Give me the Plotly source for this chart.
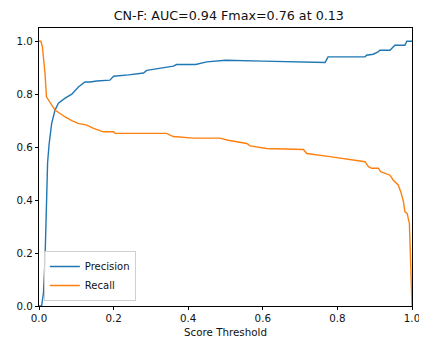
import plotly.graph_objects as go

title = "CN-F: AUC=0.94 Fmax=0.76 at 0.13"

prec_x = [0.0, 0.007, 0.012, 0.016, 0.02, 0.023, 0.027, 0.034, 0.043, 0.052, 0.07, 0.088,
          0.105, 0.123, 0.137, 0.155, 0.19, 0.2, 0.24, 0.28, 0.289, 0.32, 0.36, 0.369,
          0.42, 0.45, 0.5, 0.6, 0.708, 0.767, 0.775, 0.861, 0.874, 0.878, 0.896, 0.909,
          0.914, 0.941, 0.946, 0.954, 0.981, 0.986, 1.0]
prec_y = [0.0, 0.0, 0.05, 0.17, 0.38, 0.54, 0.61, 0.69, 0.74, 0.766, 0.785, 0.80,
          0.826, 0.846, 0.846, 0.85, 0.853, 0.868, 0.873, 0.88, 0.89, 0.898, 0.906, 0.912,
          0.912, 0.922, 0.928, 0.925, 0.922, 0.92, 0.941, 0.941, 0.941, 0.947, 0.951, 0.96,
          0.966, 0.966, 0.972, 0.985, 0.985, 1.0, 1.0]

rec_x = [0.0, 0.005, 0.009, 0.016, 0.02, 0.03, 0.043, 0.07, 0.088, 0.105, 0.128, 0.145,
         0.155, 0.172, 0.2, 0.204, 0.342, 0.36, 0.413, 0.485, 0.507, 0.557, 0.566, 0.61,
         0.709, 0.718, 0.78, 0.861, 0.874, 0.883, 0.892, 0.91, 0.916, 0.941, 0.95, 0.963,
         0.97, 0.977, 0.981, 0.987, 0.993, 0.995, 0.999, 1.0]
rec_y = [1.0, 1.0, 0.98, 0.88, 0.79, 0.766, 0.74, 0.714, 0.70, 0.69, 0.683, 0.672,
         0.667, 0.658, 0.658, 0.652, 0.652, 0.64, 0.634, 0.634, 0.626, 0.614, 0.605, 0.595,
         0.591, 0.576, 0.564, 0.548, 0.545, 0.526, 0.52, 0.52, 0.507, 0.494, 0.475, 0.457,
         0.431, 0.394, 0.356, 0.35, 0.312, 0.224, 0.035, 0.0]

fig = go.Figure()
fig.add_trace(go.Scatter(x=prec_x, y=prec_y, mode="lines", name="Precision",
                         line=dict(color="#1f77b4", width=1.4)))
fig.add_trace(go.Scatter(x=rec_x, y=rec_y, mode="lines", name="Recall",
                         line=dict(color="#ff7f0e", width=1.4)))

axis_style = dict(showgrid=False, zeroline=False, showline=True, mirror=True,
                  linecolor="black", linewidth=1, ticks="outside", ticklen=3,
                  tickwidth=1, tickcolor="black", tickformat=".1f", dtick=0.2,
                  tickfont=dict(size=10.3, color="#111"), automargin=False)

fig.update_xaxes(range=[0, 1], title=dict(text="Score Threshold", font=dict(size=10.3, color="#111"),
                                          standoff=5), **axis_style)
fig.update_yaxes(range=[0, 1.05], **axis_style)

# page body has an 8px margin, so the figure is a bit smaller than the window
fig.update_layout(
    width=419, height=334,
    margin=dict(l=31, r=15, t=20, b=36),
    plot_bgcolor="white", paper_bgcolor="white",
    font=dict(family="DejaVu Sans", color="#111"),
    title=dict(text=title, x=0.527, xanchor="center", y=0.976, yanchor="middle",
               font=dict(size=12.7, color="#111")),
    legend=dict(x=0.013, y=0.018, xanchor="left", yanchor="bottom",
                bordercolor="#d0d0d0", borderwidth=1, bgcolor="rgba(255,255,255,0.8)",
                font=dict(size=10), itemwidth=30, tracegroupgap=0),
    showlegend=True,
)

fig.write_html("out.html")
